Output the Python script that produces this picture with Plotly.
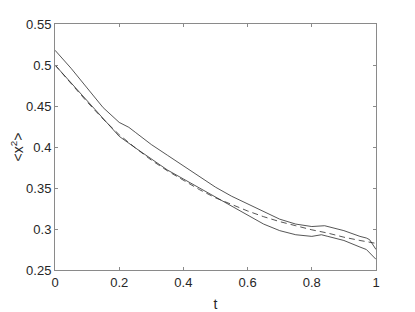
import plotly.graph_objects as go

t_upper = [0, 0.05, 0.1, 0.15, 0.2, 0.23, 0.25, 0.3, 0.35, 0.4, 0.45, 0.5, 0.55, 0.6, 0.65, 0.7, 0.75, 0.8, 0.84, 0.9, 0.95, 0.97, 0.98, 1.0]
x2_upper = [0.518, 0.496, 0.472, 0.448, 0.430, 0.424, 0.418, 0.403, 0.390, 0.377, 0.363, 0.351, 0.340, 0.331, 0.321, 0.312, 0.306, 0.303, 0.304, 0.298, 0.291, 0.289, 0.287, 0.275]

t_lower = [0, 0.05, 0.1, 0.15, 0.2, 0.25, 0.3, 0.35, 0.4, 0.45, 0.5, 0.55, 0.6, 0.65, 0.7, 0.75, 0.8, 0.83, 0.85, 0.9, 0.95, 0.97, 1.0]
x2_lower = [0.500, 0.478, 0.456, 0.434, 0.413, 0.399, 0.385, 0.372, 0.361, 0.350, 0.338, 0.327, 0.316, 0.306, 0.298, 0.293, 0.291, 0.293, 0.291, 0.286, 0.278, 0.275, 0.263]

t_exact = [0, 0.05, 0.1, 0.15, 0.2, 0.25, 0.3, 0.35, 0.4, 0.45, 0.5, 0.55, 0.6, 0.65, 0.7, 0.75, 0.8, 0.85, 0.9, 0.95, 1.0]
x2_exact = [0.500, 0.477, 0.455, 0.434, 0.415, 0.399, 0.384, 0.371, 0.359, 0.348, 0.338, 0.330, 0.322, 0.315, 0.309, 0.304, 0.299, 0.295, 0.290, 0.286, 0.2825]

x_ticks = [0, 0.2, 0.4, 0.6, 0.8, 1]
x_ticklabels = ["0", "0.2", "0.4", "0.6", "0.8", "1"]
y_ticks = [0.25, 0.3, 0.35, 0.4, 0.45, 0.5, 0.55]
y_ticklabels = ["0.25", "0.3", "0.35", "0.4", "0.45", "0.5", "0.55"]

line_col = "#2b2b2b"
axis_col = "#8a8a8a"
font = "Liberation Sans, Arial, sans-serif"

fig = go.Figure()
fig.add_trace(go.Scatter(x=t_upper, y=x2_upper, mode="lines", line=dict(color=line_col, width=0.8)))
fig.add_trace(go.Scatter(x=t_lower, y=x2_lower, mode="lines", line=dict(color=line_col, width=0.8)))
fig.add_trace(go.Scatter(x=t_exact, y=x2_exact, mode="lines", line=dict(color=line_col, width=0.8, dash="6px,4px")))

axis_common = dict(showgrid=False, zeroline=False, showline=True, linecolor=axis_col, linewidth=1,
                   mirror="ticks", ticks="inside", ticklen=3, tickcolor=axis_col, automargin=False,
                   tickfont=dict(family=font, size=13, color="#262626"))

# page body has an 8px default margin, so the figure is offset by 8px;
# size it so it fits in the 415x312 window exactly
fig.update_layout(
    width=407, height=304,
    margin=dict(l=47, r=39, t=16, b=42, autoexpand=False),
    paper_bgcolor="white", plot_bgcolor="white",
    showlegend=False,
    font=dict(family=font, color="#262626"),
    xaxis=dict(range=[0, 1], tickvals=x_ticks, ticktext=x_ticklabels,
               title=dict(text="t", font=dict(family=font, size=14, color="#262626"), standoff=12),
               **axis_common),
    yaxis=dict(range=[0.25, 0.55], tickvals=y_ticks, ticktext=y_ticklabels,
               title=dict(text="&lt;x<sup>2</sup>&gt;", font=dict(family=font, size=14, color="#262626"), standoff=0),
               **axis_common),
)

fig.write_html("out.html")
